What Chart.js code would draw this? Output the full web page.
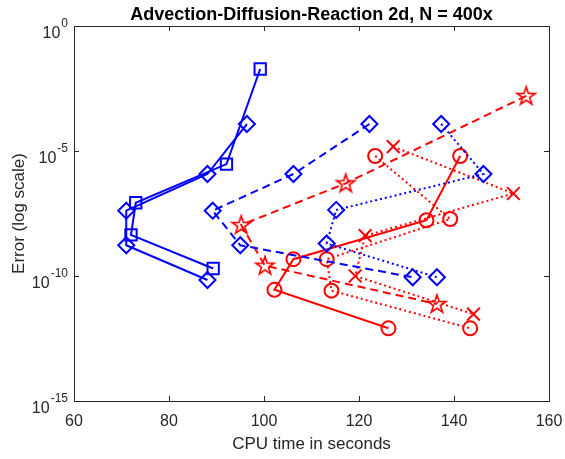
<!DOCTYPE html>
<html>
<head>
<meta charset="utf-8">
<script src="https://cdn.jsdelivr.net/npm/chart.js@4.4.1/dist/chart.umd.min.js"></script>
<style>
html, body { margin: 0; padding: 0; background: #fff; }
</style>
</head>
<body>
<canvas id="myChart" width="565" height="459"></canvas>
<script>
// values (x = CPU seconds, y = error)
var blueSolidSqX   = [99.2, 92.1, 73.0, 72.0, 89.3];
var blueSolidSqY   = [1.9e-2, 3.0e-6, 8.5e-8, 4.4e-9, 2.0e-10];

var blueSolidDiaX  = [96.4, 88.1, 71.0, 71.0, 88.1];
var blueSolidDiaY  = [1.2e-4, 1.2e-6, 4.1e-8, 1.7e-9, 6.9e-11];

var blueDashDiaX   = [122.2, 106.2, 89.2, 95.0, 131.3];
var blueDashDiaY   = [1.2e-4, 1.2e-6, 4.1e-8, 1.7e-9, 8.9e-11];

var blueDotDiaX    = [137.3, 146.2, 115.2, 113.2, 136.4];
var blueDotDiaY    = [1.2e-4, 1.2e-6, 4.4e-8, 2.0e-9, 8.9e-11];

var redDashStarX   = [155.2, 117.2, 95.2, 100.2, 136.4];
var redDashStarY   = [1.6e-3, 5.1e-7, 1.1e-8, 2.6e-10, 7.6e-12];

var redSolidCircX  = [141.3, 134.2, 106.2, 102.2, 126.2];
var redSolidCircY  = [6.3e-6, 1.7e-8, 4.7e-10, 2.8e-11, 8.1e-13];

var redDotCircX    = [123.4, 139.2, 113.2, 114.2, 143.4];
var redDotCircY    = [6.3e-6, 1.9e-8, 4.7e-10, 2.6e-11, 8.1e-13];

var redDotCrossX   = [127.2, 152.5, 121.3, 119.2, 144.1];
var redDotCrossY   = [1.5e-5, 2.0e-7, 4.1e-9, 1.0e-10, 3.0e-12];

var xTicks = [60, 80, 100, 120, 140, 160];
var yTicks = [0, -5, -10, -15];   // exponents of 10

var titleText = 'Advection-Diffusion-Reaction 2d, N = 400x';
var xLabel = 'CPU time in seconds';
var yLabel = 'Error (log scale)';

var BLUE = '#0000ff';
var RED = '#ff0000';
var AXIS = '#262626';
var FONT = "'Liberation Sans', Arial, Helvetica, sans-serif";

function pts(xs, ys) {
  var out = [];
  for (var i = 0; i < xs.length; i++) out.push({x: xs[i], y: ys[i]});
  return out;
}

// matlab style pentagram marker
function pentagram(color) {
  var c = document.createElement('canvas');
  c.width = 24; c.height = 24;
  var g = c.getContext('2d');
  g.strokeStyle = color;
  g.lineWidth = 1.7;
  g.beginPath();
  for (var i = 0; i < 10; i++) {
    var r = (i % 2 == 0) ? 9.5 : 3.7;
    var a = -Math.PI / 2 + i * Math.PI / 5;
    var px = 12 + r * Math.cos(a), py = 12.5 + r * Math.sin(a);
    if (i == 0) g.moveTo(px, py); else g.lineTo(px, py);
  }
  g.closePath();
  g.stroke();
  return c;
}

function series(label, xs, ys, color, dash, style, radius) {
  return {
    label: label,
    data: pts(xs, ys),
    showLine: true,
    borderColor: color,
    backgroundColor: 'rgba(0,0,0,0)',
    borderWidth: 2,
    borderDash: dash,
    pointStyle: style,
    pointRadius: radius,
    pointBorderWidth: 2,
    pointBorderColor: color,
    pointBackgroundColor: 'rgba(0,0,0,0)',
    tension: 0,
    clip: false
  };
}

var DASH = [8, 5];
var DOT = [2, 3];

var matlabAxes = {
  id: 'matlabAxes',
  afterDraw: function(chart) {
    var ctx = chart.ctx, a = chart.chartArea;
    var xs = chart.scales.x, ys = chart.scales.y;
    ctx.save();
    ctx.strokeStyle = AXIS;
    ctx.lineWidth = 1;
    ctx.strokeRect(Math.round(a.left) + 0.5, Math.round(a.top) + 0.5,
                   Math.round(a.right - a.left), Math.round(a.bottom - a.top));
    ctx.beginPath();
    xTicks.forEach(function(v) {
      var px = Math.round(xs.getPixelForValue(v)) + 0.5;
      ctx.moveTo(px, a.bottom); ctx.lineTo(px, a.bottom - 5);
      ctx.moveTo(px, a.top); ctx.lineTo(px, a.top + 5);
    });
    yTicks.forEach(function(e) {
      var py = Math.round(ys.getPixelForValue(Math.pow(10, e))) + 0.5;
      ctx.moveTo(a.left, py); ctx.lineTo(a.left + 5, py);
      ctx.moveTo(a.right, py); ctx.lineTo(a.right - 5, py);
    });
    ctx.stroke();

    ctx.fillStyle = AXIS;
    // x tick labels
    ctx.font = '16px ' + FONT;
    ctx.textAlign = 'center';
    ctx.textBaseline = 'alphabetic';
    xTicks.forEach(function(v) {
      ctx.fillText(String(v), xs.getPixelForValue(v), a.bottom + 25);
    });
    // y tick labels as 10^e
    yTicks.forEach(function(e) {
      var py = ys.getPixelForValue(Math.pow(10, e));
      var ex = String(e);
      ctx.font = '12px ' + FONT;
      var we = ctx.measureText(ex).width;
      var right = a.left - 6;
      ctx.textAlign = 'right';
      ctx.fillText(ex, right, py + 1);
      ctx.font = '16px ' + FONT;
      ctx.fillText('10', right - we - 1, py + 12);
    });
    // axis labels
    ctx.font = '17px ' + FONT;
    ctx.textAlign = 'center';
    ctx.fillText(xLabel, (a.left + a.right) / 2, 449);
    ctx.save();
    ctx.translate(24, (a.top + a.bottom) / 2);
    ctx.rotate(-Math.PI / 2);
    ctx.fillText(yLabel, 0, 0);
    ctx.restore();
    // title
    ctx.fillStyle = '#000';
    ctx.font = 'bold 18px ' + FONT;
    ctx.fillText(titleText, (a.left + a.right) / 2, 20);
    ctx.restore();
  }
};

var ctx = document.getElementById('myChart');
var myChart = new Chart(ctx, {
  type: 'scatter',
  data: {
    datasets: [
      series('blue solid squares', blueSolidSqX, blueSolidSqY, BLUE, [], 'rect', 8),
      series('blue solid diamonds', blueSolidDiaX, blueSolidDiaY, BLUE, [], 'rectRot', 8),
      series('blue dashed diamonds', blueDashDiaX, blueDashDiaY, BLUE, DASH, 'rectRot', 8),
      series('blue dotted diamonds', blueDotDiaX, blueDotDiaY, BLUE, DOT, 'rectRot', 8),
      series('red dashed stars', redDashStarX, redDashStarY, RED, DASH, pentagram(RED), 9),
      series('red solid circles', redSolidCircX, redSolidCircY, RED, [], 'circle', 7),
      series('red dotted circles', redDotCircX, redDotCircY, RED, DOT, 'circle', 7),
      series('red dotted crosses', redDotCrossX, redDotCrossY, RED, DOT, 'crossRot', 9)
    ]
  },
  options: {
    responsive: false,
    animation: false,
    devicePixelRatio: 1,
    layout: { padding: { left: 74, right: 16, top: 26, bottom: 58 } },
    plugins: {
      legend: { display: false },
      tooltip: { enabled: false },
      title: { display: false }
    },
    scales: {
      x: { type: 'linear', min: 60, max: 160, display: false },
      y: { type: 'logarithmic', min: 1e-15, max: 1, display: false }
    }
  },
  plugins: [matlabAxes]
});
</script>
</body>
</html>
